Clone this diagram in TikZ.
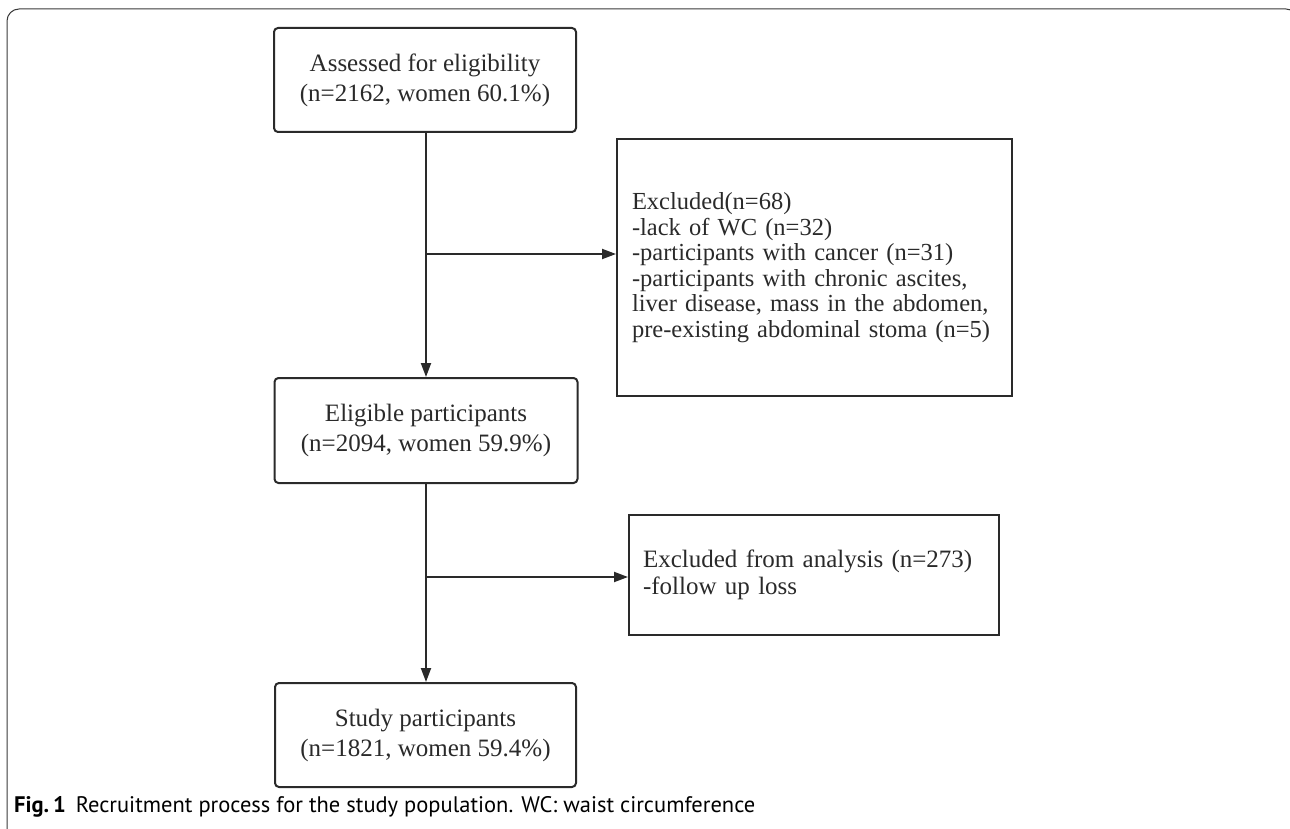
\documentclass[tikz,border=0pt]{standalone}
\usepackage{fontspec}
\setmainfont{Liberation Serif}
\newfontfamily\capfont{PT Sans}
\usetikzlibrary{arrows.meta,calc}
\definecolor{ink}{HTML}{2A2A2A}
\definecolor{framegray}{HTML}{3A3A3A}
\begin{document}
\begin{tikzpicture}[x=1pt,y=-1pt,
  roundbox/.style={draw=ink,line width=2pt,rounded corners=4pt,align=center,
    inner sep=0pt,font=\fontsize{25}{30}\selectfont,text=ink},
  sqbox/.style={draw=ink,line width=2pt,align=left,inner ysep=0pt,
    font=\fontsize{24.5}{25.5}\selectfont,text=ink},
  flow/.style={draw=ink,line width=2pt},
  arr/.style={flow,-{Triangle[length=14pt,width=10pt]}},
  frameline/.style={draw=framegray,line width=1pt}]
\useasboundingbox (0,0) rectangle (1290,829);
% outer frame
\draw[frameline,rounded corners=12pt] (7,840) -- (7,9) -- (1298,9) -- (1298,60);
% boxes
\node[roundbox,minimum width=302pt,minimum height=104pt] (b1) at (425,80)
  {Assessed for eligibility\\(n=2162, women 60.1\%)};
\node[sqbox,inner xsep=15pt,text width=365pt,minimum height=257pt] (b2) at (814.5,267.5)
  {Excluded(n=68)\\-lack of WC (n=32)\\-participants with cancer (n=31)\\-participants with chronic ascites,\\liver disease, mass in the abdomen,\\pre-existing abdominal stoma (n=5)};
\node[roundbox,minimum width=303pt,minimum height=105pt] (b3) at (426,430.5)
  {Eligible participants\\(n=2094, women 59.9\%)};
\node[sqbox,inner xsep=14pt,text width=342pt,minimum height=120pt,
  font=\fontsize{25}{27}\selectfont] (b4) at (814,575)
  {Excluded from analysis (n=273)\\-follow up loss};
\node[roundbox,minimum width=301pt,minimum height=104pt] (b5) at (425.5,735)
  {Study participants\\(n=1821, women 59.4\%)};
% connectors
\coordinate (j1) at (426,254);
\coordinate (j2) at (426,577);
\draw[arr] (b1.south -| j1) -- (b3.north -| j1);
\draw[arr] (j1) -- (j1 -| b2.west);
\draw[arr] (b3.south -| j2) -- (b5.north -| j2);
\draw[arr] (j2) -- (j2 -| b4.west);
% caption
\node[anchor=base west,inner sep=0pt,font=\capfont\fontsize{22.5}{25}\selectfont,text=black] (cap) at (14,812)
  {\textbf{Fig.\,1}\hspace{10pt}Recruitment process for the study population. WC: waist circumference};
\end{tikzpicture}
\end{document}
